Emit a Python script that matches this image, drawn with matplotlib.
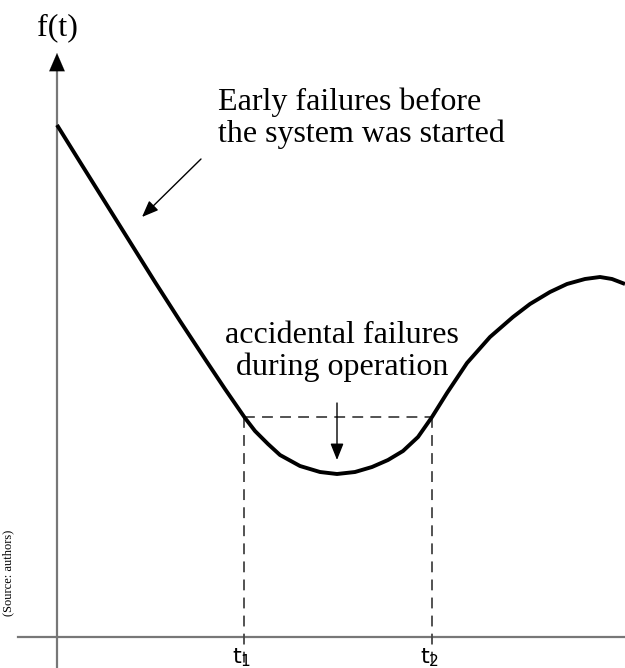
import matplotlib
matplotlib.use("Agg")
import matplotlib.pyplot as plt

# curve (t along the axis, f(t) up)
T = [0, 23, 48, 73, 98, 123, 148, 168, 188, 198, 211, 223, 243, 263, 280, 298, 315,
     331, 346, 361, 375, 390, 410, 433, 456, 473, 493, 510, 528, 543, 555, 568]
F = [512, 475, 435, 395, 355, 316, 278, 248, 219, 206, 193, 182, 171, 165, 163, 165, 170,
     177, 186, 200, 220, 244, 274, 300, 320, 333, 345, 353, 358, 360, 358, 353]

T1 = 187
T2 = 375
F_LEVEL = 220

TICK_LABELS = [r"$\mathsf{t_1}$", r"$\mathsf{t_2}$"]
EARLY_TEXT = "Early failures before\nthe system was started"
ACCIDENTAL_TEXT = "accidental failures\nduring operation"
SOURCE_TEXT = "(Source: authors)"

plt.rcParams["mathtext.fontset"] = "dejavusans"

fig = plt.figure(figsize=(6.25, 6.68), dpi=100)
ax = fig.add_axes([0, 0, 1, 1])
ax.set_xlim(-57, 568)
ax.set_ylim(-31, 637)
ax.set_axis_off()

axis_col = "#777777"
# axes
ax.plot([-39, 568], [0, 0], color=axis_col, lw=1.6)
ax.plot([0, 0], [-31, 572], color=axis_col, lw=1.6)
ax.annotate("", xy=(0, 584), xytext=(0, 566),
            arrowprops=dict(arrowstyle="-|>,head_length=0.65,head_width=0.28",
                            mutation_scale=20, color="black", lw=0.1,
                            shrinkA=0, shrinkB=0))

# dashed guide lines
dash = dict(color="#444444", lw=1.3, dashes=(6, 4))
ax.plot([T1, T2], [F_LEVEL, F_LEVEL], **dash)
ax.plot([T1, T1], [F_LEVEL, -31], **dash)
ax.plot([T2, T2], [F_LEVEL, -31], **dash)

# main curve
ax.plot(T, F, color="black", lw=2.8, solid_joinstyle="round", solid_capstyle="butt")

serif = "Liberation Serif"
ax.text(0, 602, "f(t)", family=serif, fontsize=23, ha="center", va="baseline")
ax.text(161, 495, EARLY_TEXT, family=serif, fontsize=23, ha="left", va="baseline",
        linespacing=1.1)
ax.text(285, 262, ACCIDENTAL_TEXT, family=serif, fontsize=23, ha="center",
        va="baseline", linespacing=1.1)

ax.annotate("", xy=(85, 420), xytext=(144, 478),
            arrowprops=dict(arrowstyle="-|>,head_length=0.5,head_width=0.2",
                            mutation_scale=20, color="black", lw=1.0,
                            shrinkA=0, shrinkB=0))
ax.annotate("", xy=(280, 177), xytext=(280, 234),
            arrowprops=dict(arrowstyle="-|>,head_length=0.5,head_width=0.2",
                            mutation_scale=20, color="black", lw=1.0,
                            shrinkA=0, shrinkB=0))

for x, lab in zip([T1, T2], TICK_LABELS):
    ax.text(x - 2, -26, lab, fontsize=16, ha="center", va="baseline")

ax.text(-49, 64, SOURCE_TEXT, family=serif, fontsize=9, rotation=90,
        ha="center", va="center")

fig.savefig("out.png", dpi=100)
